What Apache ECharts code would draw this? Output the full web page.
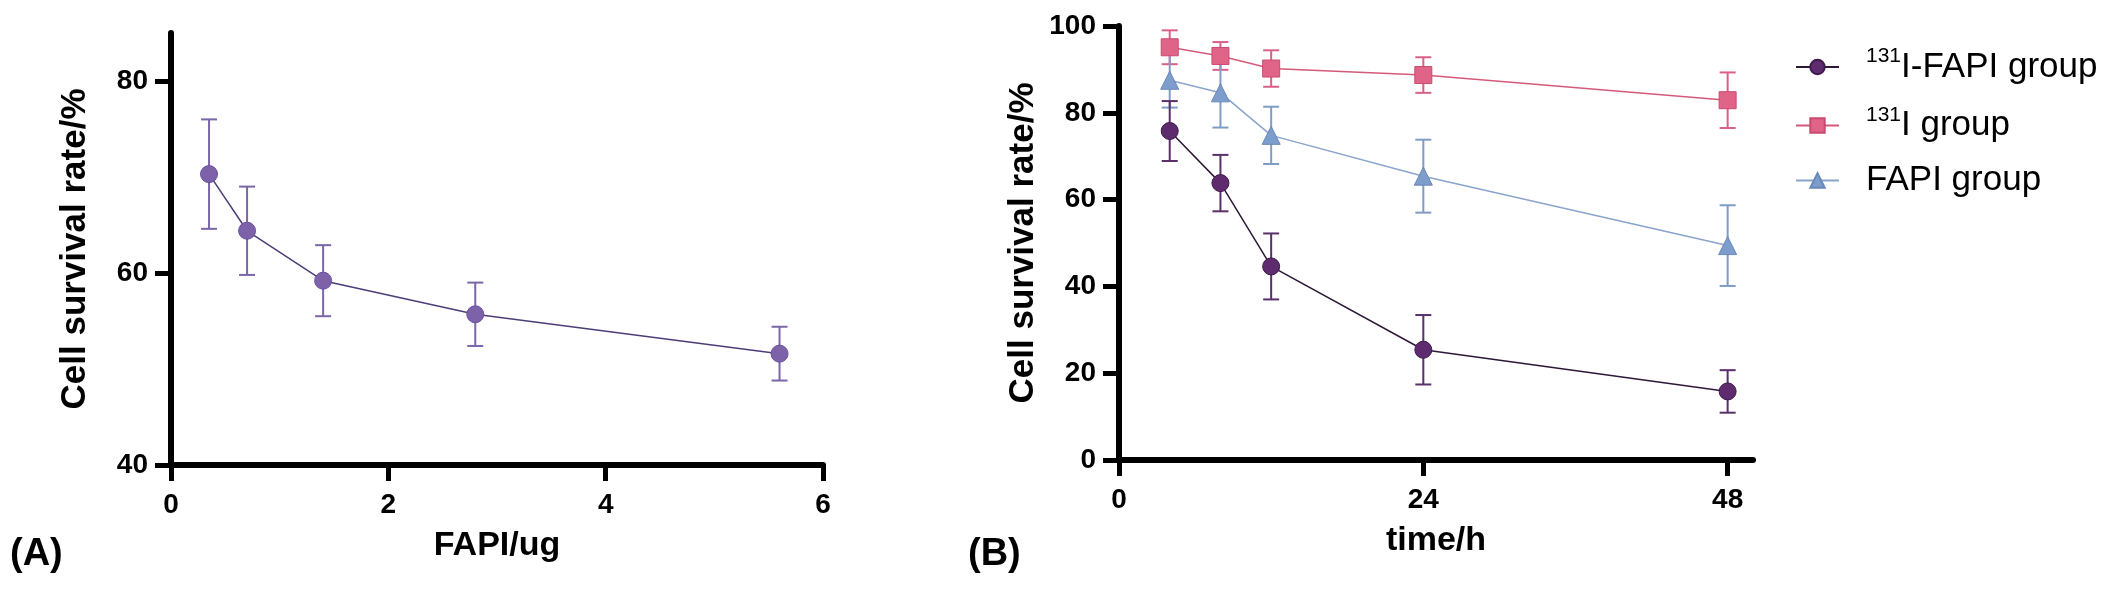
<!DOCTYPE html>
<html>
<head>
<meta charset="utf-8">
<script src="https://cdn.jsdelivr.net/npm/echarts@6/dist/echarts.min.js"></script>
<style>
html,body{margin:0;padding:0;background:#fff;}
#chart{width:2108px;height:589px;}
</style>
</head>
<body>
<div id="chart"></div>
<script>
// ---- Panel A data ----
const doseA = [0.35, 0.7, 1.4, 2.8, 5.6];
const survA = [70.3, 64.4, 59.2, 55.7, 51.6];
const errA = [5.7, 4.6, 3.7, 3.3, 2.8];
const ticksAx = [0, 2, 4, 6];
const ticksAy = [40, 60, 80];

// ---- Panel B data ----
const timeB = [4, 8, 12, 24, 48];
const iFapi = [75.8, 63.8, 44.6, 25.4, 15.8];
const iFapiErr = [6.9, 6.5, 7.6, 8.0, 4.9];
const iOnly = [95.1, 93.1, 90.2, 88.7, 82.9];
const iOnlyErr = [3.9, 3.2, 4.2, 4.1, 6.4];
const fapiOnly = [87.5, 84.6, 74.8, 65.4, 49.4];
const fapiErr = [6.3, 8.0, 6.6, 8.4, 9.3];
const ticksBx = [0, 24, 48];
const ticksBy = [0, 20, 40, 60, 80, 100];
const seriesNames = ['131I-FAPI group', '131I group', 'FAPI group'];

const FONT = 'Liberation Sans, Arial, sans-serif';

function pairs(xs, ys) { return xs.map((x, i) => [x, ys[i]]); }
function errData(xs, ys, es) { return xs.map((x, i) => [x, ys[i] - es[i], ys[i] + es[i]]); }
function errSeries(xIdx, yIdx, data, color) {
  return {
    type: 'custom', xAxisIndex: xIdx, yAxisIndex: yIdx, z: 1, silent: true,
    data: data,
    renderItem: function (params, api) {
      const x = api.value(0), lo = api.value(1), hi = api.value(2);
      const pLo = api.coord([x, lo]), pHi = api.coord([x, hi]);
      const w = 8;
      const style = { stroke: color, lineWidth: 2, fill: null };
      return { type: 'group', children: [
        { type: 'line', shape: { x1: pHi[0], y1: pHi[1], x2: pLo[0], y2: pLo[1] }, style: style },
        { type: 'line', shape: { x1: pHi[0] - w, y1: pHi[1], x2: pHi[0] + w, y2: pHi[1] }, style: style },
        { type: 'line', shape: { x1: pLo[0] - w, y1: pLo[1], x2: pLo[0] + w, y2: pLo[1] }, style: style }
      ]};
    }
  };
}

const axisBase = {
  axisLine: { show: true, lineStyle: { color: '#000', width: 6 } },
  axisTick: { show: true, length: 16, lineStyle: { color: '#000', width: 5 } },
  axisLabel: { color: '#000', fontFamily: FONT, fontWeight: 'bold', fontSize: 28 },
  splitLine: { show: false },
  nameLocation: 'middle',
  nameTextStyle: { color: '#000', fontFamily: FONT, fontWeight: 'bold', fontSize: 34 }
};
function ax(extra) {
  const o = JSON.parse(JSON.stringify(axisBase));
  for (const k in extra) {
    if (typeof extra[k] === 'object' && !Array.isArray(extra[k]) && o[k]) Object.assign(o[k], extra[k]);
    else o[k] = extra[k];
  }
  return o;
}

const chart = echarts.init(document.getElementById('chart'), null, { renderer: 'canvas' });
chart.setOption({
  animation: false,
  backgroundColor: '#fff',
  title: [
    { text: '(A)', left: 10, top: 536, padding: 0, textStyle: { fontFamily: FONT, fontWeight: 'bold', fontSize: 38, color: '#000' } },
    { text: '(B)', left: 968, top: 536, padding: 0, textStyle: { fontFamily: FONT, fontWeight: 'bold', fontSize: 38, color: '#000' } }
  ],
  grid: [
    { left: 171, top: 33, width: 652, height: 432 },
    { left: 1119, top: 26, width: 634, height: 434 }
  ],
  xAxis: [
    ax({ gridIndex: 0, type: 'value', min: 0, max: 6, interval: 2, name: 'FAPI/ug', nameGap: 64,
         axisLabel: { margin: 26, customValues: ticksAx }, axisTick: { customValues: ticksAx } }),
    ax({ gridIndex: 1, type: 'value', min: 0, max: 50, name: 'time/h', nameGap: 64,
         axisLabel: { margin: 26, customValues: ticksBx }, axisTick: { customValues: ticksBx } })
  ],
  yAxis: [
    ax({ gridIndex: 0, type: 'value', min: 40, max: 85, name: 'Cell survival rate/%', nameGap: 78,
         nameTextStyle: { fontSize: 35 },
         axisLabel: { margin: 23, customValues: ticksAy }, axisTick: { customValues: ticksAy } }),
    ax({ gridIndex: 1, type: 'value', min: 0, max: 100, name: 'Cell survival rate/%', nameGap: 78,
         nameTextStyle: { fontSize: 35 },
         axisLabel: { margin: 23, customValues: ticksBy }, axisTick: { customValues: ticksBy } })
  ],
  legend: {
    data: seriesNames,
    orient: 'vertical',
    left: 1790, top: 41,
    itemWidth: 43, itemHeight: 18, itemGap: 20,
    textStyle: {
      color: '#000', fontFamily: FONT, fontSize: 35, padding: [0, 0, 0, 22],
      rich: {
        s: { fontFamily: FONT, fontSize: 21, verticalAlign: 'top', lineHeight: 42, color: '#000' },
        n: { fontFamily: FONT, fontSize: 35, lineHeight: 42, color: '#000' }
      }
    },
    formatter: function (name) {
      if (name.indexOf('131') === 0) return '{s|131}{n|' + name.slice(3) + '}';
      return '{n|' + name + '}';
    }
  },
  series: [
    errSeries(0, 0, errData(doseA, survA, errA), '#7a66a8'),
    {
      type: 'line', name: 'FAPI dose', xAxisIndex: 0, yAxisIndex: 0, z: 3,
      data: pairs(doseA, survA),
      symbol: 'circle', symbolSize: 17,
      lineStyle: { color: '#4e3d78', width: 1.5 },
      itemStyle: { color: '#7d62aa', borderColor: '#6a50a0', borderWidth: 1 }
    },
    errSeries(1, 1, errData(timeB, iOnly, iOnlyErr), '#d9608a'),
    errSeries(1, 1, errData(timeB, fapiOnly, fapiErr), '#7f9cc6'),
    errSeries(1, 1, errData(timeB, iFapi, iFapiErr), '#5a2f6a'),
    {
      type: 'line', name: seriesNames[1], xAxisIndex: 1, yAxisIndex: 1, z: 3,
      data: pairs(timeB, iOnly),
      symbol: 'rect', symbolSize: 17,
      lineStyle: { color: '#d45a7a', width: 1.5 },
      itemStyle: { color: '#e06487', borderColor: '#c94a70', borderWidth: 1 }
    },
    {
      type: 'line', name: seriesNames[2], xAxisIndex: 1, yAxisIndex: 1, z: 3,
      data: pairs(timeB, fapiOnly),
      symbol: 'triangle', symbolSize: 18,
      lineStyle: { color: '#8aa4cc', width: 1.5 },
      itemStyle: { color: '#7d9dcc', borderColor: '#6a88b8', borderWidth: 1 }
    },
    {
      type: 'line', name: seriesNames[0], xAxisIndex: 1, yAxisIndex: 1, z: 3,
      data: pairs(timeB, iFapi),
      symbol: 'circle', symbolSize: 17,
      lineStyle: { color: '#2e1838', width: 1.5 },
      itemStyle: { color: '#5e2c6e', borderColor: '#3c1a4a', borderWidth: 1 }
    }
  ]
});
</script>
</body>
</html>
